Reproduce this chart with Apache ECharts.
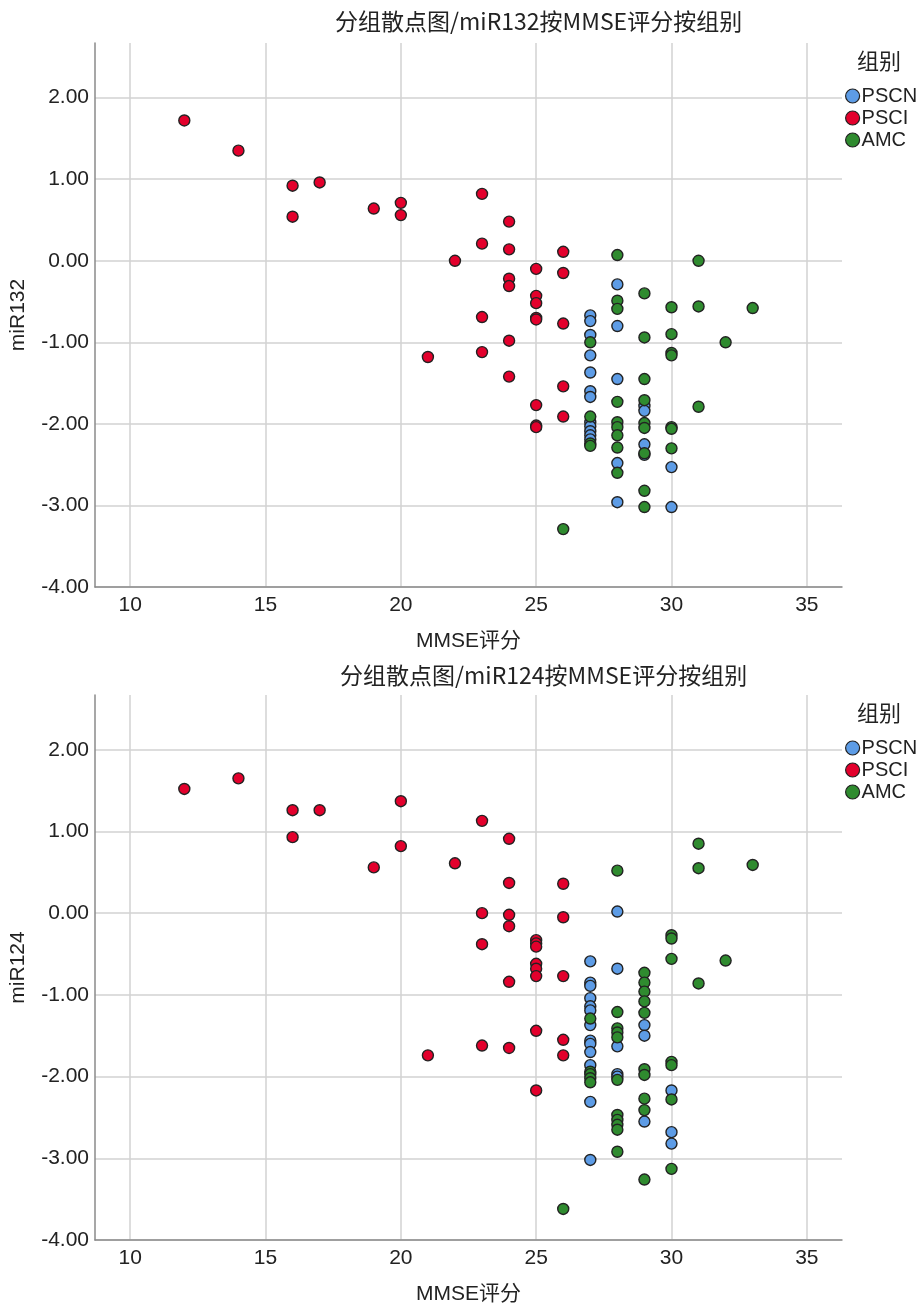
<!DOCTYPE html>
<html>
<head>
<meta charset="utf-8">
<script src="https://cdn.jsdelivr.net/npm/echarts@6/dist/echarts.min.js"></script>
<style>html,body{margin:0;padding:0;background:#fff}#c{width:918px;height:1308px}</style>
</head>
<body>
<div id="c"></div>
<script>
const groups = ['PSCN', 'PSCI', 'AMC'];
const xTicks = [10, 15, 20, 25, 30, 35];
const yTicks = [-4, -3, -2, -1, 0, 1, 2];
const titleTop = '分组散点图/miR132按MMSE评分按组别';
const titleBottom = '分组散点图/miR124按MMSE评分按组别';

// miR132 (top chart) [MMSE, value]
const pscn132 = [[27,-0.67],[27,-0.74],[27,-0.91],[27,-1.16],[27,-1.37],[27,-1.60],[27,-1.67],[27,-1.98],[27,-2.03],[27,-2.09],[27,-2.14],[27,-2.19],
  [28,-0.29],[28,-0.80],[28,-1.45],[28,-2.48],[28,-2.96],
  [29,-1.78],[29,-1.84],[29,-2.25],[29,-2.38],
  [30,-2.53],[30,-3.02]];
const psci132 = [[12,1.72],[14,1.35],[16,0.92],[16,0.54],[17,0.96],[19,0.64],[20,0.71],[20,0.56],[21,-1.18],[22,0.00],
  [23,0.82],[23,0.21],[23,-0.69],[23,-1.12],
  [24,0.48],[24,0.14],[24,-0.22],[24,-0.31],[24,-0.98],[24,-1.42],
  [25,-0.10],[25,-0.43],[25,-0.52],[25,-0.70],[25,-0.72],[25,-1.77],[25,-2.02],[25,-2.04],
  [26,0.11],[26,-0.15],[26,-0.77],[26,-1.54],[26,-1.91]];
const amc132 = [[26,-3.29],
  [27,-1.00],[27,-1.91],[27,-2.24],[27,-2.27],
  [28,0.07],[28,-0.49],[28,-0.59],[28,-1.73],[28,-1.98],[28,-2.04],[28,-2.14],[28,-2.29],[28,-2.60],
  [29,-0.40],[29,-0.94],[29,-1.45],[29,-1.71],[29,-1.99],[29,-2.05],[29,-2.36],[29,-2.82],[29,-3.02],
  [30,-0.57],[30,-0.90],[30,-1.13],[30,-1.16],[30,-2.04],[30,-2.06],[30,-2.30],
  [31,0.00],[31,-0.56],[31,-1.79],[32,-1.00],[33,-0.58]];

// miR124 (bottom chart) [MMSE, value]
const pscn124 = [[27,-0.59],[27,-0.85],[27,-0.89],[27,-1.04],[27,-1.14],[27,-1.19],[27,-1.37],[27,-1.56],[27,-1.60],[27,-1.70],[27,-1.86],[27,-2.31],[27,-3.02],
  [28,0.02],[28,-0.68],[28,-1.63],[28,-1.97],[28,-2.00],
  [29,-1.37],[29,-1.50],[29,-2.55],
  [30,-2.17],[30,-2.68],[30,-2.82]];
const psci124 = [[12,1.52],[14,1.65],[16,1.26],[16,0.93],[17,1.26],[19,0.56],[20,1.37],[20,0.82],[21,-1.74],[22,0.61],
  [23,1.13],[23,0.00],[23,-0.38],[23,-1.62],
  [24,0.91],[24,0.37],[24,-0.02],[24,-0.16],[24,-0.84],[24,-1.65],
  [25,-0.33],[25,-0.37],[25,-0.41],[25,-0.62],[25,-0.68],[25,-0.77],[25,-1.44],[25,-2.17],
  [26,0.36],[26,-0.05],[26,-0.77],[26,-1.55],[26,-1.74]];
const amc124 = [[26,-3.62],
  [27,-1.29],[27,-1.94],[27,-1.97],[27,-2.02],[27,-2.07],
  [28,0.52],[28,-1.21],[28,-1.41],[28,-1.46],[28,-1.52],[28,-2.04],[28,-2.47],[28,-2.53],[28,-2.59],[28,-2.65],[28,-2.92],
  [29,-0.73],[29,-0.85],[29,-0.96],[29,-1.08],[29,-1.22],[29,-1.91],[29,-1.98],[29,-2.27],[29,-2.41],[29,-3.26],
  [30,-0.27],[30,-0.31],[30,-0.56],[30,-1.82],[30,-1.86],[30,-2.28],[30,-3.13],
  [31,0.85],[31,0.55],[31,-0.86],[32,-0.58],[33,0.59]];

const colors = {PSCN: '#5D9CE6', PSCI: '#E3002C', AMC: '#2F8B2F'};
const FONT = '"Liberation Sans", "Noto Sans CJK SC", sans-serif';
const CJK = '"Noto Sans CJK SC", sans-serif';

function xAxis(idx) {
  return {
    type: 'value', gridIndex: idx, min: 8.7, max: 36.3,
    name: 'MMSE评分', nameLocation: 'middle', nameGap: 44,
    nameTextStyle: {fontSize: 21, color: '#222', fontFamily: FONT},
    axisLine: {show: true, onZero: false, lineStyle: {color: '#8a8a8a', width: 1.5}},
    axisTick: {show: false, customValues: xTicks},
    axisLabel: {customValues: xTicks, fontSize: 21, color: '#222', fontFamily: FONT, margin: 8},
    splitLine: {show: true, lineStyle: {color: '#d2d2d2', width: 1.5}}
  };
}
function yAxis(idx, name) {
  return {
    type: 'value', gridIndex: idx, min: -4, max: 2.67,
    name: name, nameLocation: 'middle', nameGap: 66, nameRotate: 90,
    nameTextStyle: {fontSize: 21, color: '#222', fontFamily: FONT},
    axisLine: {show: true, onZero: false, lineStyle: {color: '#8a8a8a', width: 1.5}},
    axisTick: {show: false, customValues: yTicks},
    axisLabel: {customValues: yTicks, fontSize: 21, color: '#222', fontFamily: FONT, margin: 6,
      formatter: v => Number(v).toFixed(2)},
    splitLine: {show: true, lineStyle: {color: '#d2d2d2', width: 1.5}}
  };
}
function ser(name, data, idx) {
  return {
    type: 'scatter', name: name, data: data, xAxisIndex: idx, yAxisIndex: idx,
    symbol: 'circle', symbolSize: 11,
    itemStyle: {color: colors[name], borderColor: '#222', borderWidth: 1.4, opacity: 1},
    emphasis: {disabled: true}
  };
}
function legend(top) {
  return {
    orient: 'vertical', left: 845, top: top, itemWidth: 14, itemHeight: 14, itemGap: 2,
    icon: 'circle', padding: 0,
    data: groups.map(g => ({name: g, itemStyle: {color: colors[g], borderColor: '#222', borderWidth: 1.2}})),
    textStyle: {fontSize: 20, color: '#222', fontFamily: FONT, lineHeight: 20, padding: [0, 0, 0, -3]}
  };
}

const chart = echarts.init(document.getElementById('c'), null, {renderer: 'canvas'});
chart.setOption({
  animation: false,
  backgroundColor: '#fff',
  title: [
    {text: titleTop, left: 335, top: 10, padding: 0, textStyle: {fontSize: 23, fontWeight: 'normal', color: '#222', fontFamily: CJK}},
    {text: titleBottom, left: 340, top: 664, padding: 0, textStyle: {fontSize: 23, fontWeight: 'normal', color: '#222', fontFamily: CJK}},
    {text: '组别', left: 857, top: 50, padding: 0, textStyle: {fontSize: 22, fontWeight: 'normal', color: '#222', fontFamily: CJK}},
    {text: '组别', left: 857, top: 702, padding: 0, textStyle: {fontSize: 22, fontWeight: 'normal', color: '#222', fontFamily: CJK}}
  ],
  legend: [legend(86), legend(738)],
  grid: [
    {left: 95, top: 43, width: 747, height: 544, containLabel: false},
    {left: 95, top: 695, width: 747, height: 545, containLabel: false}
  ],
  xAxis: [xAxis(0), xAxis(1)],
  yAxis: [yAxis(0, 'miR132'), yAxis(1, 'miR124')],
  series: [
    ser('PSCN', pscn132, 0), ser('PSCI', psci132, 0), ser('AMC', amc132, 0),
    ser('PSCN', pscn124, 1), ser('PSCI', psci124, 1), ser('AMC', amc124, 1)
  ]
});
</script>
</body>
</html>
